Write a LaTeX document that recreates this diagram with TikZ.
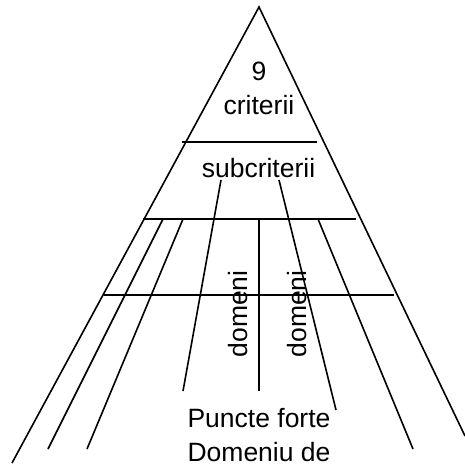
\documentclass[tikz,border=0pt]{standalone}
\usepackage{fontspec}
\setmainfont{Liberation Sans}
\begin{document}
\begin{tikzpicture}[x=1pt,y=-1pt,
  ln/.style={line width=1.6pt},
  lbl/.style={font=\fontsize{26.5}{32}\selectfont, inner sep=0pt, anchor=base}]
\useasboundingbox (0,0) rectangle (465,465);
% pyramid sides
\coordinate (apex) at (259,7);
\coordinate (lb) at (12,463);
\coordinate (rb) at (465,436);
\draw[ln] (lb) -- (apex) -- (rb);
% horizontal levels
\coordinate (h1l) at (182,142); \coordinate (h1r) at (317,142);
\coordinate (h2l) at (143,219); \coordinate (h2r) at (356,219);
\coordinate (h3l) at (104,295); \coordinate (h3r) at (394,295);
\draw[ln] (h1l) -- (h1r);
\draw[ln] (h2l) -- (h2r);
\draw[ln] (h3l) -- (h3r);
% inner lines
\coordinate (a1) at (163,219); \coordinate (a2) at (48,449);
\coordinate (b1) at (183,219); \coordinate (b2) at (87,449);
\coordinate (s1) at (221,180); \coordinate (s2) at (183,391);
\coordinate (m1) at (259,219); \coordinate (m2) at (259,391);
\coordinate (t1) at (279,180); \coordinate (t2) at (336,410);
\coordinate (c1) at (318,219); \coordinate (c2) at (413,449);
\draw[ln] (a1) -- (a2);
\draw[ln] (b1) -- (b2);
\draw[ln] (s1) -- (s2);
\draw[ln] (m1) -- (m2);
\draw[ln] (t1) -- (t2);
\draw[ln] (c1) -- (c2);
% labels
\node[lbl] (nine) at (259,81) {9};
\node[lbl] (crit) at (259,115) {criterii};
\node[lbl] (sub) at (258.5,177) {subcriterii};
\node[lbl, rotate=90] (dom1) at (247,314) {domeni};
\node[lbl, rotate=90] (dom2) at (306,314) {domeni};
\node[lbl] (pf) at (259,427) {Puncte forte};
\node[lbl] (dd) at (259,461) {Domeniu de};
\end{tikzpicture}
\end{document}
